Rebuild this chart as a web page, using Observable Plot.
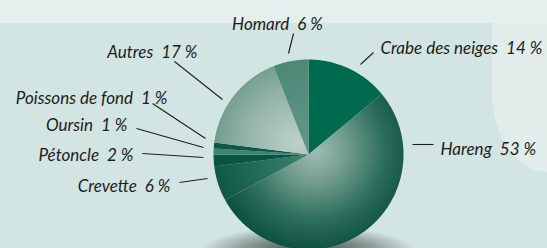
<!DOCTYPE html>
<html>
<head>
<meta charset="utf-8">
<script src="https://cdn.jsdelivr.net/npm/d3@7"></script>
<script src="https://cdn.jsdelivr.net/npm/@observablehq/plot@0.6"></script>
<style>
  html, body { margin: 0; padding: 0; background: #d3e5e2; }
  #wrap { position: relative; width: 547px; height: 248px; overflow: hidden; background: #d3e5e2; }
  .band { position: absolute; left: 0; top: 0; width: 547px; height: 23px; background: #e5efed; }
  .panel { position: absolute; left: 492px; top: 23px; width: 55px; height: 149px; background: #e2edeb;
           border-bottom-left-radius: 55px 80px; }
  .shadow { position: absolute; left: 198px; top: 226px; width: 220px; height: 50px;
            background: radial-gradient(ellipse at center, rgba(40,50,48,0.85) 0%, rgba(40,50,48,0.45) 40%, rgba(40,50,48,0) 70%); }
  #chart { position: absolute; left: 0; top: 0; }
  #chart text { font-family: Lato, "Open Sans", sans-serif; }
</style>
</head>
<body>
<svg width="0" height="0" style="position:absolute">
  <defs>
    <radialGradient id="gHareng" gradientUnits="userSpaceOnUse" cx="314" cy="150" r="108">
      <stop offset="0" stop-color="#a2bdb3"/>
      <stop offset="0.3" stop-color="#719c8e"/>
      <stop offset="0.65" stop-color="#2c6d5b"/>
      <stop offset="1" stop-color="#064a39"/>
    </radialGradient>
    <radialGradient id="gAutres" gradientUnits="userSpaceOnUse" cx="296" cy="142" r="100">
      <stop offset="0" stop-color="#bdd0c9"/>
      <stop offset="0.5" stop-color="#95b4a9"/>
      <stop offset="1" stop-color="#5e8f80"/>
    </radialGradient>
    <radialGradient id="gHomard" gradientUnits="userSpaceOnUse" cx="308" cy="154" r="96">
      <stop offset="0" stop-color="#64988a"/>
      <stop offset="1" stop-color="#4c8876"/>
    </radialGradient>
    <radialGradient id="gCrevette" gradientUnits="userSpaceOnUse" cx="308" cy="154" r="96">
      <stop offset="0" stop-color="#3f8270"/>
      <stop offset="1" stop-color="#0d5945"/>
    </radialGradient>
  </defs>
</svg>
<div id="wrap">
  <div class="band"></div>
  <div class="panel"></div>
  <div class="shadow"></div>
  <div id="chart"></div>
</div>
<script>
// ---- data ----
const categories = ["Crabe des neiges", "Hareng", "Crevette", "Pétoncle", "Oursin", "Poissons de fond", "Autres", "Homard"];
const shares = [14, 53, 6, 2, 1, 1, 17, 6];
const percentLabels = ["14 %", "53 %", "6 %", "2 %", "1 %", "1 %", "17 %", "6 %"];

// ---- styles ----
const sliceFills = ["#006a4e", "url(#gHareng)", "url(#gCrevette)", "#0a5542", "#3d8370", "#0c5a46", "url(#gAutres)", "url(#gHomard)"];

// ---- layout (pixels) ----
const W = 547, H = 248;
const pie = {cx: 308, cy: 154, r: 95};
// label anchor (baseline) and leader line endpoints
const labelLayout = [
  {tx: 380, ty: 53,  anchor: "start",  x1: 360, y1: 64,  x2: 373, y2: 52},
  {tx: 440, ty: 154, anchor: "start",  x1: 412, y1: 144, x2: 433, y2: 144},
  {tx: 170, ty: 191, anchor: "end",    x1: 179, y1: 182, x2: 207, y2: 178},
  {tx: 133, ty: 160, anchor: "end",    x1: 142, y1: 153, x2: 203, y2: 157},
  {tx: 127, ty: 130, anchor: "end",    x1: 136, y1: 128, x2: 203, y2: 147},
  {tx: 167, ty: 103, anchor: "end",    x1: 152, y1: 103, x2: 205, y2: 138},
  {tx: 197, ty: 57,  anchor: "end",    x1: 174, y1: 61,  x2: 222, y2: 99},
  {tx: 277, ty: 29,  anchor: "middle", x1: 293, y1: 33,  x2: 288, y2: 53}
];

// ---- build slice outlines from the data ----
const arcs = d3.pie().sort(null).startAngle(0).endAngle(2 * Math.PI)(shares);
const sliceRows = arcs.map((a, i) => {
  const pts = [{x: pie.cx, y: pie.cy}];
  const n = Math.max(4, Math.ceil((a.endAngle - a.startAngle) / (Math.PI / 360)));
  for (let j = 0; j <= n; j++) {
    const t = a.startAngle + (a.endAngle - a.startAngle) * j / n;
    pts.push({x: pie.cx + pie.r * Math.sin(t), y: pie.cy - pie.r * Math.cos(t)});
  }
  return pts;
});

const labels = categories.map((c, i) => ({
  text: c + "\u00a0\u00a0" + percentLabels[i].replace(" ", "\u00a0"),
  ...labelLayout[i]
}));

const marks = [
  ...sliceRows.map((rows, i) => Plot.line(rows, {x: "x", y: "y", fill: sliceFills[i], stroke: "none"})),
  Plot.link(labels, {x1: "x1", y1: "y1", x2: "x2", y2: "y2", stroke: "#1f1f1f", strokeWidth: 1.1}),
  ...["start", "end", "middle"].map(anc => Plot.text(labels.filter(d => d.anchor === anc), {
    x: "tx", y: "ty", text: "text", textAnchor: anc, lineAnchor: "bottom",
    fontSize: 17, fontStyle: "italic", fill: "#1c1c1c"
  }))
];

const chart = Plot.plot({
  width: W, height: H,
  margin: 0,
  x: {domain: [0, W], range: [0, W], axis: null},
  y: {domain: [0, H], range: [0, H], axis: null},
  style: {background: "transparent", overflow: "visible"},
  marks
});
document.getElementById("chart").append(chart);
</script>
</body>
</html>
